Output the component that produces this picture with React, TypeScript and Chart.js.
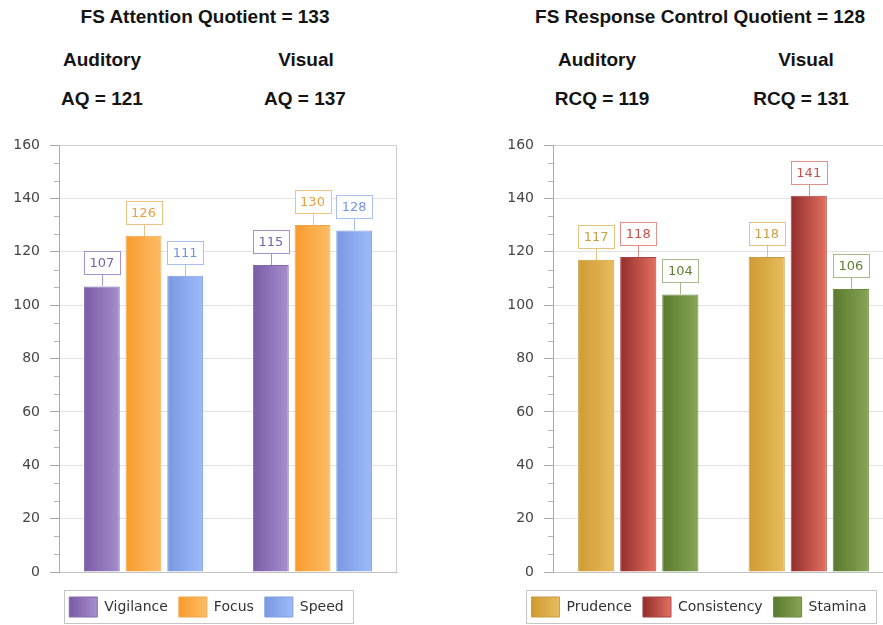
import React, { useEffect, useRef } from 'react';
import { Chart, registerables } from 'chart.js';

Chart.register(...registerables);

// ---------- data ----------
const CATEGORIES = ['Auditory', 'Visual'];
const Y_MIN = 0;
const Y_MAX = 160;
const Y_STEP = 20;
const MINOR_DIVISIONS = 3;

const ATTENTION_TITLE = 'FS Attention Quotient = 133';
const ATTENTION_SUBTITLES = ['AQ = 121', 'AQ = 137'];
const ATTENTION_SERIES = ['Vigilance', 'Focus', 'Speed'];
const VIGILANCE = [107, 115];
const FOCUS = [126, 130];
const SPEED = [111, 128];

const RESPONSE_TITLE = 'FS Response Control Quotient = 128';
const RESPONSE_SUBTITLES = ['RCQ = 119', 'RCQ = 131'];
const RESPONSE_SERIES = ['Prudence', 'Consistency', 'Stamina'];
const PRUDENCE = [117, 118];
const CONSISTENCY = [118, 141];
const STAMINA = [104, 106];

// ---------- styles ----------
type SeriesStyle = { dark: string; light: string; border: string; labelBorder: string; labelText: string };

const ATTENTION_STYLES: SeriesStyle[] = [
  { dark: '#7a5ba6', light: '#a68ecd', border: '#8569b0', labelBorder: '#a790cc', labelText: '#7d62a9' },
  { dark: '#f99a2c', light: '#fdbd66', border: '#f2a548', labelBorder: '#efc27f', labelText: '#eba040' },
  { dark: '#7898e2', light: '#9ebaf8', border: '#7f9fe6', labelBorder: '#a9bff0', labelText: '#7195e4' },
];
const RESPONSE_STYLES: SeriesStyle[] = [
  { dark: '#cf9a33', light: '#e8bc5e', border: '#c99c3e', labelBorder: '#e2c47f', labelText: '#c9a045' },
  { dark: '#922c2c', light: '#e4715f', border: '#a84242', labelBorder: '#e0918b', labelText: '#c9504a' },
  { dark: '#587a2c', light: '#88a457', border: '#6a8a3a', labelBorder: '#a6ba8b', labelText: '#5f7f33' },
];

const FONT = 'DejaVu Sans';
Chart.defaults.font.family = FONT;

const minorTicksPlugin = {
  id: 'minorTicks',
  afterDraw(chart: any) {
    const y = chart.scales.y;
    const ctx = chart.ctx;
    const left = chart.chartArea.left;
    ctx.save();
    ctx.strokeStyle = '#b4b4b4';
    ctx.lineWidth = 1;
    const sub = Y_STEP / MINOR_DIVISIONS;
    for (let k = 0; k * sub <= Y_MAX + 1e-9; k++) {
      if (k % MINOR_DIVISIONS === 0) continue;
      const py = Math.round(y.getPixelForValue(Y_MIN + k * sub)) + 0.5;
      ctx.beginPath();
      ctx.moveTo(left - 5, py);
      ctx.lineTo(left, py);
      ctx.stroke();
    }
    // right border of plot area
    const r = Math.round(chart.chartArea.right) - 0.5;
    ctx.strokeStyle = '#cdcdcd';
    ctx.beginPath();
    ctx.moveTo(r, chart.chartArea.top);
    ctx.lineTo(r, chart.chartArea.bottom);
    ctx.stroke();
    ctx.restore();
  },
};

const valueBoxPlugin = {
  id: 'valueBoxes',
  afterDatasetsDraw(chart: any, _args: any, opts: any) {
    const ctx = chart.ctx;
    const styles: SeriesStyle[] = opts.styles;
    chart.data.datasets.forEach((ds: any, di: number) => {
      const meta = chart.getDatasetMeta(di);
      const st = styles[di];
      meta.data.forEach((el: any, i: number) => {
        const { x, y, width } = el.getProps(['x', 'y', 'width'], true);
        const v = ds.data[i];
        const boxH = 23;
        const gap = 12;
        const bw = Math.round(width);
        const left = Math.round(x - bw / 2) + 0.5;
        const bottom = Math.round(y - gap) + 0.5;
        const cx = Math.round(x) + 0.5;
        ctx.save();
        ctx.strokeStyle = st.labelBorder;
        ctx.lineWidth = 1;
        ctx.beginPath();
        ctx.moveTo(cx, Math.round(y));
        ctx.lineTo(cx, bottom);
        ctx.stroke();
        ctx.fillStyle = '#ffffff';
        ctx.fillRect(left, bottom - boxH, bw, boxH);
        ctx.strokeRect(left, bottom - boxH, bw, boxH);
        ctx.fillStyle = st.labelText;
        ctx.font = `13px "${FONT}"`;
        ctx.textAlign = 'center';
        ctx.textBaseline = 'middle';
        ctx.fillText(String(v), x, bottom - boxH / 2 + 0.5);
        ctx.restore();
      });
    });
  },
};

const legendFramePlugin = {
  id: 'legendFrame',
  afterLayout(chart: any, _args: any, opts: any) {
    const lg = chart.legend;
    if (lg && opts.shift) {
      lg.left += opts.shift;
      lg.right += opts.shift;
    }
  },
  beforeDraw(chart: any, _args: any, opts: any) {
    const lg = chart.legend;
    if (!lg || !lg.legendHitBoxes) return;
    const styles: SeriesStyle[] = opts.styles;
    lg.legendItems.forEach((item: any, i: number) => {
      const hb = lg.legendHitBoxes[i];
      if (!hb) return;
      const g = chart.ctx.createLinearGradient(hb.left, 0, hb.left + 28, 0);
      g.addColorStop(0, styles[i].dark);
      g.addColorStop(1, styles[i].light);
      item.fillStyle = g;
    });
  },
  afterDraw(chart: any) {
    const lg = chart.legend;
    if (!lg || !lg.legendHitBoxes || !lg.legendHitBoxes.length) return;
    const hbs = lg.legendHitBoxes;
    const first = hbs[0];
    const last = hbs[hbs.length - 1];
    const ctx = chart.ctx;
    const l = Math.round(first.left - 5) + 0.5;
    const r = Math.round(last.left + last.width + 9) + 0.5;
    const t = Math.round(first.top - 7) + 0.5;
    const b = Math.round(first.top + 26) + 0.5;
    ctx.save();
    ctx.strokeStyle = '#c6c6c6';
    ctx.lineWidth = 1;
    ctx.strokeRect(l, t, r - l, b - t);
    ctx.restore();
  },
};

function makeConfig(names: string[], values: number[][], styles: SeriesStyle[], yWidth: number, shift: number): any {
  return {
    type: 'bar',
    data: {
      labels: CATEGORIES,
      datasets: names.map((name, i) => ({
        label: name,
        data: values[i],
        borderColor: styles[i].border,
        borderWidth: 1,
        backgroundColor: (c: any) => {
          const el = c.element;
          if (!el || typeof el.x !== 'number' || typeof el.width !== 'number' || !isFinite(el.x) || !isFinite(el.width)) {
            return styles[i].light;
          }
          const g = c.chart.ctx.createLinearGradient(el.x - el.width / 2, 0, el.x + el.width / 2, 0);
          g.addColorStop(0, styles[i].dark);
          g.addColorStop(1, styles[i].light);
          return g;
        },
        categoryPercentage: 0.74,
        barPercentage: 0.86,
      })),
    },
    options: {
      responsive: false,
      animation: false,
      events: [],
      layout: { padding: { top: 20, right: 9, left: 0, bottom: 0 } },
      plugins: {
        tooltip: { enabled: false },
        title: { display: false },
        legend: {
          display: true,
          position: 'bottom',
          align: 'center',
          labels: {
            boxWidth: 28,
            boxHeight: 20,
            padding: 11,
            color: '#333333',
            font: { family: FONT, size: 14 },
          },
        },
        valueBoxes: { styles },
        legendFrame: { styles, shift },
      },
      scales: {
        x: {
          type: 'category',
          ticks: { display: false },
          grid: { display: false },
          border: { display: true, color: '#c2c2c2' },
          afterFit: (s: any) => {
            s.height = 14;
          },
        },
        y: {
          min: Y_MIN,
          max: Y_MAX,
          ticks: { stepSize: Y_STEP, padding: 10, color: '#454545', font: { family: FONT, size: 14 } },
          grid: {
            color: (c: any) => (c.tick && c.tick.value === Y_MAX ? '#cfcfcf' : '#e3e3e3'),
            tickColor: '#a8a8a8',
            tickLength: 9,
            drawTicks: true,
          },
          border: { display: true, color: '#ababab' },
          afterFit: (s: any) => {
            s.width = yWidth;
          },
        },
      },
    },
    plugins: [minorTicksPlugin, valueBoxPlugin, legendFramePlugin],
  };
}

function BarPanel(props: { names: string[]; values: number[][]; styles: SeriesStyle[]; left: number; width: number; yWidth: number; shift: number }) {
  const ref = useRef<HTMLCanvasElement | null>(null);
  useEffect(() => {
    if (!ref.current) return;
    const chart = new Chart(ref.current, makeConfig(props.names, props.values, props.styles, props.yWidth, props.shift));
    chart.update();
    return () => chart.destroy();
  }, []);
  return (
    <canvas
      ref={ref}
      width={props.width}
      height={502}
      style={{ position: 'absolute', left: props.left, top: 125, width: props.width, height: 502 }}
    />
  );
}

const headStyle: React.CSSProperties = {
  position: 'absolute',
  transform: 'translateX(-50%)',
  whiteSpace: 'nowrap',
  fontFamily: '"Liberation Sans", Arial, sans-serif',
  fontWeight: 'bold',
  fontSize: 19,
  lineHeight: '19px',
  color: '#141414',
};

function Head(props: { x: number; y: number; text: string }) {
  return <div style={{ ...headStyle, left: props.x, top: props.y }}>{props.text}</div>;
}

export default function App() {
  return (
    <div style={{ position: 'fixed', left: 0, top: 0, width: 883, height: 625, overflow: 'hidden', background: '#ffffff' }}>
      <Head x={205} y={7} text={ATTENTION_TITLE} />
      <Head x={102} y={50} text={CATEGORIES[0]} />
      <Head x={306} y={50} text={CATEGORIES[1]} />
      <Head x={102} y={89} text={ATTENTION_SUBTITLES[0]} />
      <Head x={305} y={89} text={ATTENTION_SUBTITLES[1]} />

      <Head x={700} y={7} text={RESPONSE_TITLE} />
      <Head x={597} y={50} text={CATEGORIES[0]} />
      <Head x={806} y={50} text={CATEGORIES[1]} />
      <Head x={602} y={89} text={RESPONSE_SUBTITLES[0]} />
      <Head x={801} y={89} text={RESPONSE_SUBTITLES[1]} />

      <BarPanel
        names={ATTENTION_SERIES}
        values={[VIGILANCE, FOCUS, SPEED]}
        styles={ATTENTION_STYLES}
        left={8}
        width={398}
        yWidth={51}
        shift={4}
      />
      <BarPanel
        names={RESPONSE_SERIES}
        values={[PRUDENCE, CONSISTENCY, STAMINA]}
        styles={RESPONSE_STYLES}
        left={500}
        width={403}
        yWidth={53}
        shift={2}
      />
    </div>
  );
}
